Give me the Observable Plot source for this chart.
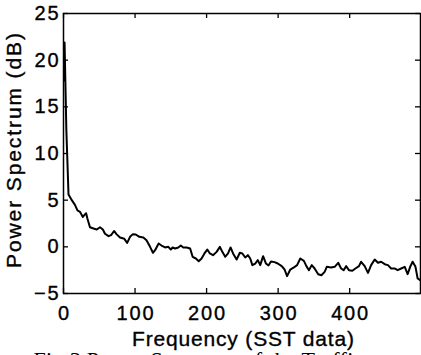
<!DOCTYPE html>
<html><head><meta charset="utf-8">
<script src="https://cdn.jsdelivr.net/npm/d3@7"></script>
<script src="https://cdn.jsdelivr.net/npm/@observablehq/plot@0.6"></script>
<style>
body{margin:0;background:#fff;width:421px;height:355px;overflow:hidden}
svg{display:block}
</style>
</head><body><div id="chart"></div>
<script>
const freq = [0,1.5,4,7,11.6,16,19.5,23,27,29,
31.6,33.5,37,42,46.5,51,55,58,63,66.5,
70.7,74,79,85,89,93,97,101,106,111.6,
116,121,125,128,133,137,142,146.5,150,152.5,
156,160.5,164,167.4,172,177,180.5,185,189,193,
197,201,204.6,209,214,218.6,222,226,230,233.5,
237,242,246.5,250,254,257.7,261,264,268,271.6,
275,279,283,286.5,290,295,299.5,305,309,312.5,
317,322,326.5,331,336,339.5,343,347,351,356,
360.5,365,368,374,379,384,388,391.6,395,399,
403.7,408,413,416,421,425.6,430,435,439.5,444,
449,453.5,458,462.8,467,472,477,481,484.6,488,
492,495,498.6];
const power = [17.8,21.9,12.5,5.6,5.0,4.5,3.9,3.75,3.2,3.4,
3.6,3.0,2.1,1.96,1.86,2.1,1.86,1.4,1.14,1.25,
1.7,1.36,1.0,0.86,0.43,1.07,1.36,1.32,1.07,1.0,
0.7,0,-0.64,-0.36,0.36,0.14,-0.07,0,-0.29,-0.07,
-0.18,-0.07,0.14,-0.07,-0.07,-0.18,-1.07,-1.25,-1.54,-1.25,
-0.71,-0.29,-0.71,-0.89,-0.54,0,-0.54,-1.07,-0.71,-0.07,
-0.71,-1.36,-0.64,-0.71,-1.14,-0.89,-1.25,-1.96,-1.79,-1.43,
-1.96,-1.0,-1.79,-2.0,-1.57,-1.64,-1.79,-2.07,-2.43,-3.14,
-2.43,-2.21,-1.96,-1.25,-1.5,-2.07,-2.5,-1.96,-2.32,-2.93,
-3.04,-2.68,-2.14,-2.21,-2.14,-1.71,-2.32,-2.5,-2.07,-2.5,
-2.57,-2.32,-2.07,-1.6,-2.07,-2.79,-1.96,-1.36,-1.71,-1.6,
-1.86,-1.96,-2.32,-2.32,-2.5,-2.32,-2.14,-2.93,-2.14,-1.6,
-2.14,-3.39,-3.57];
const xTicks = [0,100,200,300,400];
const yTicks = [-5,0,5,10,15,20,25];
const xLabel = "Frequency (SST data)";
const yLabel = "Power Spectrum (dB)";
const caption = "Fig.3 Power Spectrum of the Traffic";

const data = freq.map((f,i)=>({f, p: power[i]}));
const W=421, H=355, mt=13, mb=62, ml=63, mr=1;
const innerW = W-ml-mr, innerH = H-mt-mb;
const plot = Plot.plot({
  width: W, height: H, marginTop: mt, marginBottom: mb, marginLeft: ml, marginRight: mr,
  style: {fontFamily: "'Liberation Sans', Arial, sans-serif", fontSize: "20px", background: "white", color: "black", overflow: "hidden"},
  x: {domain: [0, 499]},
  y: {domain: [-5, 25]},
  marks: [
    Plot.line(data, {x: "f", y: "p", stroke: "black", strokeWidth: 2, clip: true}),
    Plot.frame({stroke: "black", strokeWidth: 1.5}),
    Plot.tickX(xTicks, {x: d=>d, insetTop: innerH-5, stroke: "black", strokeWidth: 1.3}),
    Plot.tickX(xTicks, {x: d=>d, insetBottom: innerH-5, stroke: "black", strokeWidth: 1.3}),
    Plot.tickY(yTicks, {y: d=>d, insetRight: innerW-5, stroke: "black", strokeWidth: 1.3}),
    Plot.tickY(yTicks, {y: d=>d, insetLeft: innerW-5, stroke: "black", strokeWidth: 1.3}),
    Plot.axisX(xTicks, {tickSize: 0, tickPadding: 12, label: null, tickFormat: d => String(d)}),
    Plot.axisY(yTicks, {tickSize: 0, tickPadding: 5, label: null, tickFormat: d => d < 0 ? "\u2212" + Math.abs(d) : String(d)}),
    Plot.text([xLabel], {frameAnchor: "bottom", dx: 1, dy: 52, lineAnchor: "bottom", textAnchor: "middle", text: d=>d, fill: "black", fontSize: 21}),
    Plot.text([yLabel], {frameAnchor: "left", dx: -49, dy: -3, rotate: -90, textAnchor: "middle", lineAnchor: "middle", text: d=>d, fill: "black", fontSize: 21}),
    Plot.text([caption], {frameAnchor: "bottom-left", dx: -30, dy: 58, lineAnchor: "top", textAnchor: "start", text: d=>d, fill: "black", fontFamily: "'Liberation Serif', 'Times New Roman', serif", fontSize: 22})
  ]
});
document.getElementById("chart").appendChild(plot);
const s = d3.select(plot);
const tickStrings = new Set([...xTicks.map(String), ...yTicks.map(d => d < 0 ? "\u2212" + Math.abs(d) : String(d))]);
s.selectAll("text").each(function() {
  const t = this.textContent;
  const el = d3.select(this);
  if (t === xLabel) {
    el.attr("textLength", 222).attr("lengthAdjust", "spacing");
  } else if (t === yLabel) {
    el.attr("textLength", 235).attr("lengthAdjust", "spacing");
  } else if (t === caption) {
    el.attr("textLength", 330).attr("lengthAdjust", "spacing");
  } else if (tickStrings.has(t)) {
    const len = this.getComputedTextLength();
    if (t.length > 1) el.attr("textLength", len + 1.8 * (t.length - 1)).attr("lengthAdjust", "spacing");
  }
  if (t !== caption) el.attr("stroke", "black").attr("stroke-width", 0.35);
});
</script>
</body></html>
